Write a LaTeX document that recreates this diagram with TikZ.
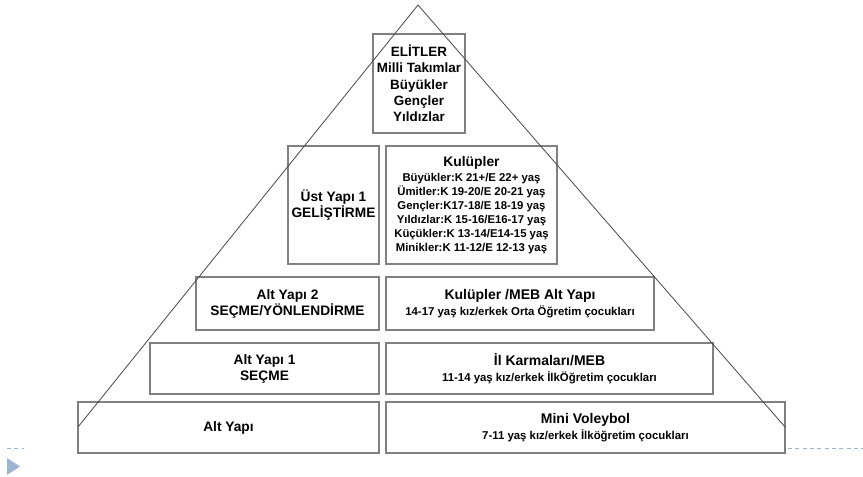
\documentclass[tikz,border=0pt]{standalone}
\usepackage{fontspec}
\setmainfont{Liberation Sans}
\usepackage{xcolor}
\definecolor{boxgray}{RGB}{128,128,128}
\definecolor{linegray}{RGB}{72,72,72}
\definecolor{slideblue}{RGB}{157,181,208}

\begin{document}
\begin{tikzpicture}[x=0.75pt,y=0.75pt,yscale=-1,xscale=1,
  levelbox/.style={draw=boxgray, fill=white, line width=0.8pt, inner sep=0pt, align=center,
    font=\fontsize{10.3}{12}\selectfont\bfseries},
  agebox/.style={levelbox, font=\fontsize{8.55}{12}\selectfont\bfseries},
  clubbox/.style={levelbox, font=\fontsize{8.5}{10.5}\selectfont\bfseries},
  boxtitle/.style={font=\fontsize{10.5}{12}\selectfont\bfseries}]
\useasboundingbox (0,0) rectangle (863,477);

% Slide marks
\draw [slideblue, line width=0.6pt, dash pattern=on 3pt off 2.5pt] (7,448) -- (24,448) ;
\draw [slideblue, line width=0.6pt, dash pattern=on 3pt off 2.5pt] (788,448) -- (863,448) ;
\fill [slideblue] (7,458) -- (20,466.5) -- (7,475) -- cycle ;

% Top Node
\node [levelbox, font=\fontsize{10.1}{12.2}\selectfont\bfseries, minimum width=69pt, minimum height=74.25pt] (elit) at (419,83.5)
  {ELİTLER\\Milli Takımlar\\Büyükler\\Gençler\\Yıldızlar};
% Left Nodes
\node [levelbox, minimum width=68.25pt, minimum height=88.5pt] (ust) at (333.5,205) {Üst Yapı 1\\GELİŞTİRME};
\node [levelbox, minimum width=137.25pt, minimum height=39.75pt] (alt2) at (287.5,303.5) {Alt Yapı 2\\SEÇME/YÖNLENDİRME};
\node [levelbox, minimum width=171.75pt, minimum height=38.25pt] (alt1) at (264.5,368.5) {Alt Yapı 1\\SEÇME};
\node [levelbox, minimum width=225.75pt, minimum height=38.25pt] (alt) at (228.5,427.5) {Alt Yapı};
% Right Nodes
\node [clubbox, minimum width=128.25pt, minimum height=88.5pt] (kulup) at (471.5,205)
  {{\fontsize{10.4}{12}\selectfont Kulüpler}\\[0.8pt]
   Büyükler:K 21+/E 22+ yaş\\Ümitler:K 19-20/E 20-21 yaş\\Gençler:K17-18/E 18-19 yaş\\
   Yıldızlar:K 15-16/E16-17 yaş\\Küçükler:K 13-14/E14-15 yaş\\Minikler:K 11-12/E 12-13 yaş};
\node [agebox, minimum width=201pt, minimum height=39.75pt] (meb) at (520,303.5)
  {{\fontsize{10.5}{12}\selectfont Kulüpler /MEB Alt Yapı}\\14-17 yaş kız/erkek Orta Öğretim çocukları};
\node [agebox, minimum width=245.25pt, minimum height=38.25pt] (karma) at (549.5,368.5)
  {{\fontsize{10.5}{12}\selectfont İl Karmaları/MEB}\\11-14 yaş kız/erkek İlkÖğretim çocukları};
\node [agebox, minimum width=299.25pt, minimum height=38.25pt] (mini) at (585.5,427.5)
  {{\fontsize{10.5}{12}\selectfont Mini Voleybol}\\7-11 yaş kız/erkek İlköğretim çocukları};

% Pyramid
\coordinate (apex) at (418,5);
\coordinate (baseL) at (78,427);
\coordinate (baseR) at (785,427);
\draw [linegray, line width=0.6pt] (baseL) -- (apex) -- (baseR) ;

\end{tikzpicture}
\end{document}
